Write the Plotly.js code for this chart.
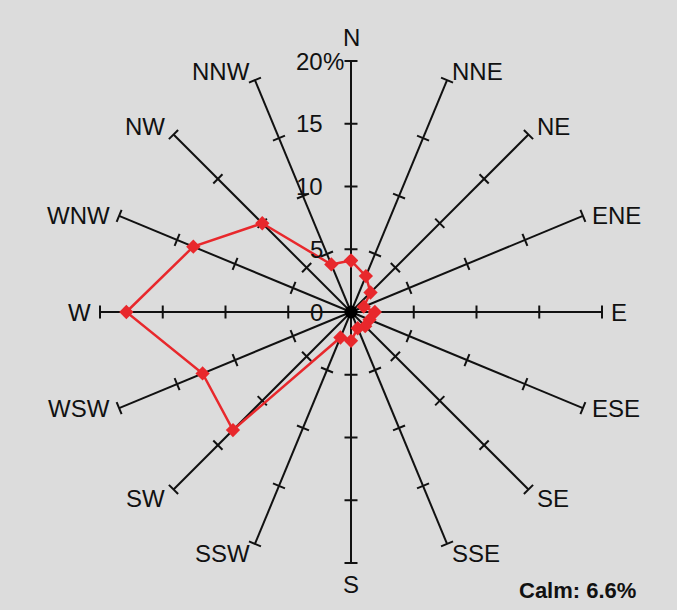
<!DOCTYPE html>
<html>
<head>
<meta charset="utf-8">
<script src="https://cdn.plot.ly/plotly-3.0.1.min.js"></script>
<style>
  html, body { margin: 0; padding: 0; background: #dcdcdc; }
  #chart { width: 677px; height: 610px; }
</style>
</head>
<body>
<div id="chart"></div>
<script>
// Wind directions, clockwise from north
const directions = ['N', 'NNE', 'NE', 'ENE', 'E', 'ESE', 'SE', 'SSE',
                    'S', 'SSW', 'SW', 'WSW', 'W', 'WNW', 'NW', 'NNW'];
// Frequency of wind from each direction (%)
const frequency = [4.1, 3.1, 2.2, 1.1, 1.9, 1.6, 1.6, 1.4,
                   2.3, 2.2, 13.3, 12.8, 17.9, 13.6, 10.0, 4.1];
// Scale marks along every spoke (%)
const spokeTicks = [5, 10, 15, 20];
// Labelled scale values on the north spoke
const scaleValues = [0, 5, 10, 15, 20];
const scaleLabels = ['0', '5', '10', '15', '20'];
const calmShare = 6.6;

const rMax = 20;
const FONT = 'Liberation Sans, Arial, Helvetica, sans-serif';
const W = 677, H = 610;
const cx = 351, cy = 312;          // pixel position of the rose centre
const pxPerUnit = 12.55;           // pixels per percent
const tickHalf = 6.5 / pxPerUnit;  // half length of a scale mark

const angle = i => i * Math.PI * 2 / directions.length;
const polarX = (r, i) => r * Math.sin(angle(i));
const polarY = (r, i) => r * Math.cos(angle(i));

// Spokes with their scale marks, as one broken line
const sx = [], sy = [];
directions.forEach((d, i) => {
  sx.push(0, polarX(rMax, i), null);
  sy.push(0, polarY(rMax, i), null);
  const px = Math.cos(angle(i)), py = -Math.sin(angle(i));
  spokeTicks.forEach(t => {
    const bx = polarX(t, i), by = polarY(t, i);
    sx.push(bx - px * tickHalf, bx + px * tickHalf, null);
    sy.push(by - py * tickHalf, by + py * tickHalf, null);
  });
});

// Closed frequency polygon
const fx = frequency.map((f, i) => polarX(f, i));
const fy = frequency.map((f, i) => polarY(f, i));
fx.push(fx[0]); fy.push(fy[0]);

const traces = [
  { type: 'scatter', mode: 'lines', x: sx, y: sy,
    line: { color: '#111111', width: 2 }, hoverinfo: 'skip' },
  { type: 'scatter', mode: 'markers', x: [0], y: [0],
    marker: { color: '#000000', size: 13 }, hoverinfo: 'skip' },
  { type: 'scatter', mode: 'lines+markers', x: fx, y: fy,
    line: { color: '#e8282c', width: 2.5 },
    marker: { symbol: 'diamond', size: 11, color: '#e8282c' },
    text: directions.concat(directions[0]), hoverinfo: 'text' }
];

const annotations = [];
// Direction names at the outer end of each spoke
directions.forEach((d, i) => {
  const a = { x: polarX(rMax, i), y: polarY(rMax, i), xref: 'x', yref: 'y',
    text: d, showarrow: false, font: { family: FONT, size: 24, color: '#111' } };
  const s = Math.sin(angle(i)), c = Math.cos(angle(i));
  if (Math.abs(s) < 1e-6) {
    a.xanchor = 'center';
    a.yanchor = c > 0 ? 'bottom' : 'top';
    a.yshift = c > 0 ? 8 : -6;
  } else {
    a.xanchor = s > 0 ? 'left' : 'right';
    a.xshift = (s > 0 ? 1 : -1) * (Math.abs(s) > 0.6 ? 7 : 3);
    if (c > 0.6) { a.yanchor = 'bottom'; a.yshift = -7; }
    else if (c < -0.6) { a.yanchor = 'top'; a.yshift = 6; }
    else { a.yanchor = 'middle'; a.yshift = 0; }
  }
  annotations.push(a);
});
// Scale labels beside the north spoke
const labelX = -(cx - 325) / pxPerUnit;
scaleValues.forEach((v, k) => {
  annotations.push({ x: labelX, y: v, xref: 'x', yref: 'y', text: scaleLabels[k],
    showarrow: false, xanchor: 'right', yanchor: 'middle',
    font: { family: FONT, size: 24, color: '#111' } });
});
annotations.push({ x: labelX, y: scaleValues[scaleValues.length - 1], xref: 'x', yref: 'y',
  text: '%', showarrow: false, xanchor: 'left', yanchor: 'middle', xshift: -4,
  font: { family: FONT, size: 24, color: '#111' } });
// Share of calm conditions
annotations.push({ x: 638 / W, y: 1 - 590 / H, xref: 'paper', yref: 'paper',
  text: '<b>Calm: ' + calmShare.toFixed(1) + '%</b>', showarrow: false,
  xanchor: 'right', yanchor: 'middle',
  font: { family: FONT, size: 22, color: '#111' } });

const layout = {
  width: W, height: H,
  margin: { l: 0, r: 0, t: 0, b: 0 },
  paper_bgcolor: '#dcdcdc', plot_bgcolor: '#dcdcdc',
  showlegend: false,
  xaxis: { range: [-cx / pxPerUnit, (W - cx) / pxPerUnit], visible: false, fixedrange: true },
  yaxis: { range: [-(H - cy) / pxPerUnit, cy / pxPerUnit], visible: false, fixedrange: true },
  annotations: annotations
};

Plotly.newPlot('chart', traces, layout, { displayModeBar: false, staticPlot: true });
</script>
</body>
</html>
